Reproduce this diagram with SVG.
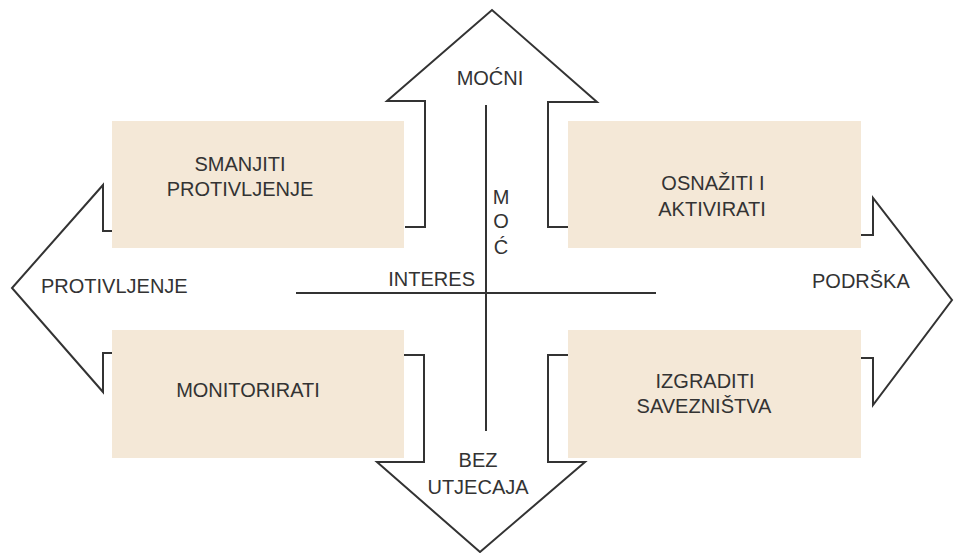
<svg xmlns="http://www.w3.org/2000/svg" width="956" height="553" viewBox="0 0 956 553">
<style>
.ol{fill:none;stroke:#333;stroke-width:2;stroke-linejoin:miter}
.ax{fill:none;stroke:#333;stroke-width:2}
.box{fill:#f4e8d7}
text{font-family:"Liberation Sans",Arial,sans-serif;font-size:20px;fill:#333}
.c{text-anchor:middle}
</style>
<rect width="956" height="553" fill="#fff"/>
<g id="connectors">
<polyline id="arrow-up" class="ol" points="405,227 425,227 425,101 387,101 492,10 597,102 548,102 548,227 568,227"/>
<polyline id="arrow-left" class="ol" points="112,231 103,231 103,185 12,288 103,392 103,353 112,353"/>
<polyline id="arrow-right" class="ol" points="861,235 873,235 873,198 952,300 873,405 873,358 861,358"/>
<polyline id="arrow-down" class="ol" points="404,355 424,355 424,462 377,462 480,552 585,462 548,462 548,355 568,355"/>
<line class="ax" x1="486" y1="105" x2="486" y2="431"/>
<line class="ax" x1="296" y1="293" x2="656" y2="293"/>
</g>
<g id="node-smanjiti">
<rect class="box" x="112" y="121" width="292" height="127"/>
<text class="c" x="240" y="171">SMANJITI</text>
<text class="c" x="240" y="196">PROTIVLJENJE</text>
</g>
<g id="node-osnaziti">
<rect class="box" x="568" y="121" width="293" height="127"/>
<text class="c" x="713" y="190">OSNAŽITI I</text>
<text class="c" x="712" y="216">AKTIVIRATI</text>
</g>
<g id="node-monitorirati">
<rect class="box" x="112" y="330" width="292" height="128"/>
<text class="c" x="248" y="397">MONITORIRATI</text>
</g>
<g id="node-izgraditi">
<rect class="box" x="568" y="330" width="293" height="128"/>
<text class="c" x="705" y="388">IZGRADITI</text>
<text class="c" x="704" y="413">SAVEZNIŠTVA</text>
</g>
<g id="labels">
<text class="c" x="490" y="85">MOĆNI</text>
<text class="c" x="478" y="467">BEZ</text>
<text class="c" x="478" y="494">UTJECAJA</text>
<text x="41" y="293">PROTIVLJENJE</text>
<text x="812" y="288">PODRŠKA</text>
<text x="475" y="286" text-anchor="end" font-size="19">INTERES</text>
<text class="c" x="501" y="204">M</text>
<text class="c" x="501" y="228">O</text>
<text class="c" x="501" y="254">Ć</text>
</g>
</svg>
